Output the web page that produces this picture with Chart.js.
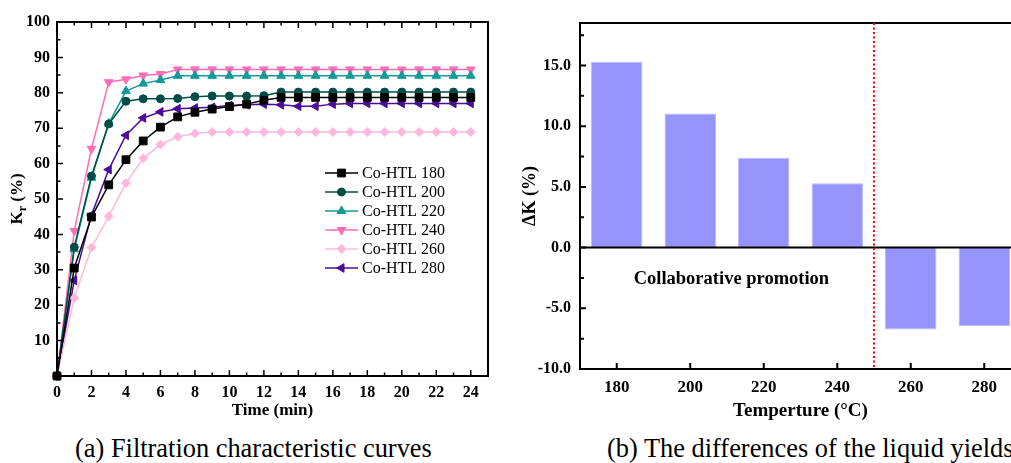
<!DOCTYPE html>
<html lang="en">
<head>
<meta charset="UTF-8">
<title>Filtration curves and liquid yield differences</title>
<script src="https://cdn.jsdelivr.net/npm/chart.js"></script>
<style>
  html, body { margin: 0; padding: 0; background: #fff; overflow: hidden; width: 1011px; height: 463px; }
  #wrapA { position: absolute; left: 0; top: 0; }
  #wrapB { position: absolute; left: 515px; top: 0; }
  .cap { position: absolute; top: 433px; font-family: 'Liberation Serif', serif; font-size: 26.4px; line-height: 30px; white-space: nowrap; color: #000; }
</style>
</head>
<body>
<div id="wrapA"><canvas id="chartA" width="505" height="430"></canvas></div>
<div id="wrapB"><canvas id="chartB" width="530" height="430"></canvas></div>
<div class="cap" style="left:75px">(a) Filtration characteristic curves</div>
<div class="cap" style="left:607px">(b) The differences of the liquid yields</div>
<script>
// (a) time axis, minutes
const times = [0, 1, 2, 3, 4, 5, 6, 7, 8, 9, 10, 11, 12, 13, 14, 15, 16, 17, 18, 19, 20, 21, 22, 23, 24];

// Kr (%) per sample
const htl180 = [0, 30.5, 44.9, 54.0, 61.1, 66.4, 70.3, 73.2, 74.5, 75.4, 76.1, 76.8, 77.9, 78.7, 78.7, 78.7, 78.7, 78.7, 78.7, 78.7, 78.7, 78.7, 78.7, 78.7, 78.7];
const htl200 = [0, 36.4, 56.5, 71.2, 77.6, 78.3, 78.3, 78.4, 78.9, 79.1, 79.1, 79.1, 79.2, 80.2, 80.2, 80.2, 80.2, 80.2, 80.2, 80.2, 80.2, 80.2, 80.2, 80.2, 80.2];
const htl220 = [0, 35.8, 56.0, 71.3, 80.5, 82.6, 83.6, 84.8, 84.8, 84.8, 84.8, 84.8, 84.8, 84.8, 84.8, 84.8, 84.8, 84.8, 84.8, 84.8, 84.8, 84.8, 84.8, 84.8, 84.8];
const htl240 = [0, 41.0, 64.2, 83.0, 83.8, 84.9, 85.3, 86.6, 86.6, 86.6, 86.6, 86.6, 86.6, 86.6, 86.6, 86.6, 86.6, 86.6, 86.6, 86.6, 86.6, 86.6, 86.6, 86.6, 86.6];
const htl260 = [0, 22.0, 36.3, 45.1, 54.5, 61.5, 65.4, 67.6, 68.5, 68.9, 68.9, 68.9, 68.9, 68.9, 68.9, 68.9, 68.9, 68.9, 68.9, 68.9, 68.9, 68.9, 68.9, 68.9, 68.9];
const htl280 = [0, 27.0, 45.5, 58.3, 68.0, 72.9, 74.6, 75.5, 75.7, 75.9, 76.4, 76.6, 76.8, 76.6, 76.2, 76.2, 76.8, 77.0, 77.0, 77.0, 77.0, 77.0, 77.0, 77.0, 77.0];

// (b) difference of liquid yields
const temps = ['180', '200', '220', '240', '260', '280'];
const deltaK = [15.3, 11.05, 7.4, 5.3, -6.75, -6.45];

const serif = "'Liberation Serif', 'Times New Roman', serif";

function series(label, data, color, style, rot, r) {
  return {
    label: label,
    data: times.map((t, i) => ({ x: t, y: data[i] })),
    borderColor: color,
    backgroundColor: color,
    borderWidth: 1.5,
    pointStyle: style,
    rotation: rot,
    pointRadius: r,
    pointBorderWidth: 1,
    tension: 0,
    clip: false
  };
}

// own marker drawer for the legend
function marker(ctx, ds, x, y) {
  const r = ds.pointRadius;
  ctx.beginPath();
  if (ds.pointStyle === 'rect') {
    const s = r * Math.SQRT1_2;
    ctx.rect(x - s, y - s, 2 * s, 2 * s);
  } else if (ds.pointStyle === 'rectRot') {
    ctx.moveTo(x, y - r); ctx.lineTo(x + r, y); ctx.lineTo(x, y + r); ctx.lineTo(x - r, y); ctx.closePath();
  } else if (ds.pointStyle === 'triangle') {
    let a = ds.rotation * Math.PI / 180;
    for (let k = 0; k < 3; k++) {
      const px = x + Math.sin(a) * r, py = y - Math.cos(a) * r;
      if (k === 0) ctx.moveTo(px, py); else ctx.lineTo(px, py);
      a += 2 * Math.PI / 3;
    }
    ctx.closePath();
  } else {
    ctx.arc(x, y, r, 0, Math.PI * 2);
  }
  ctx.fill();
  ctx.stroke();
}

const decorA = {
  id: 'decorA',
  afterDatasetsDraw(chart) {
    const { ctx, chartArea: a, scales: { x, y } } = chart;
    ctx.save();
    ctx.strokeStyle = '#000';
    ctx.lineWidth = 2;
    ctx.strokeRect(a.left, a.top, a.right - a.left, a.bottom - a.top);
    ctx.lineWidth = 1.5;
    ctx.beginPath();
    for (let v = 1; v <= 24; v++) {
      const px = x.getPixelForValue(v);
      const len = v % 2 === 0 ? 6 : 3.5;
      ctx.moveTo(px, a.bottom); ctx.lineTo(px, a.bottom - len);
      ctx.moveTo(px, a.top); ctx.lineTo(px, a.top + len);
    }
    for (let v = 5; v < 100; v += 5) {
      const py = y.getPixelForValue(v);
      const len = v % 10 === 0 ? 6 : 3.5;
      ctx.moveTo(a.left, py); ctx.lineTo(a.left + len, py);
    }
    ctx.stroke();
    ctx.restore();
  },
  afterDraw(chart) {
    const { ctx, chartArea: a } = chart;
    ctx.save();
    // y title with subscript
    ctx.translate(18, (a.top + a.bottom) / 2);
    ctx.rotate(-Math.PI / 2);
    ctx.fillStyle = '#000';
    ctx.textBaseline = 'middle';
    const big = 'bold 17px ' + serif, small = 'bold 12px ' + serif;
    ctx.font = big; const wK = ctx.measureText('K').width; const wP = ctx.measureText(' (%)').width;
    ctx.font = small; const wr = ctx.measureText('r').width;
    let sx = -(wK + wr + wP) / 2;
    ctx.font = big; ctx.fillText('K', sx, 0); sx += wK;
    ctx.font = small; ctx.fillText('r', sx, 5); sx += wr;
    ctx.font = big; ctx.fillText(' (%)', sx, 0);
    ctx.restore();

    // legend
    ctx.save();
    ctx.font = '16px ' + serif;
    ctx.textBaseline = 'middle';
    chart.data.datasets.forEach((ds, i) => {
      const ly = 173 + i * 19;
      ctx.strokeStyle = ds.borderColor;
      ctx.fillStyle = ds.backgroundColor;
      ctx.lineWidth = 1.5;
      ctx.beginPath(); ctx.moveTo(325, ly); ctx.lineTo(358, ly); ctx.stroke();
      ctx.lineWidth = 1;
      marker(ctx, ds, 341.5, ly);
      ctx.fillStyle = '#000';
      ctx.fillText(ds.label, 362, ly + 1);
    });
    ctx.restore();
  }
};

new Chart(document.getElementById('chartA'), {
  type: 'line',
  data: {
    datasets: [
      series('Co-HTL 180', htl180, '#000000', 'rect', 0, 5.5),
      series('Co-HTL 200', htl200, '#004d48', 'circle', 0, 4),
      series('Co-HTL 220', htl220, '#14999a', 'triangle', 0, 5),
      series('Co-HTL 240', htl240, '#ff6eb4', 'triangle', 180, 5),
      series('Co-HTL 260', htl260, '#ffb8da', 'rectRot', 0, 4.5),
      series('Co-HTL 280', htl280, '#4a0c98', 'triangle', -90, 5)
    ]
  },
  options: {
    responsive: false,
    animation: false,
    layout: { padding: { top: 22, right: 17, left: 0, bottom: 0 } },
    plugins: { legend: { display: false }, tooltip: { enabled: false } },
    scales: {
      x: {
        type: 'linear', min: 0, max: 25,
        grid: { display: false, drawTicks: false }, border: { display: false },
        ticks: { stepSize: 2, includeBounds: false, padding: 7, color: '#000', font: { family: serif, size: 16, weight: 'bold' } },
        title: { display: true, text: 'Time (min)', color: '#000', padding: { top: 0, bottom: 9 }, font: { family: serif, size: 17, weight: 'bold' } },
        afterFit(s) { s.height = 54; }
      },
      y: {
        min: 0, max: 100,
        grid: { display: false, drawTicks: false }, border: { display: false },
        ticks: { stepSize: 10, padding: 7, color: '#000', font: { family: serif, size: 16, weight: 'bold' },
          callback: v => (v === 0 ? '' : v) },
        afterFit(s) { s.width = 57; }
      }
    }
  },
  plugins: [decorA]
});

const decorB = {
  id: 'decorB',
  afterDatasetsDraw(chart) {
    const { ctx, chartArea: a, scales: { x, y } } = chart;
    ctx.save();
    ctx.strokeStyle = '#000';
    ctx.lineWidth = 2;
    ctx.strokeRect(a.left, a.top, a.right - a.left, a.bottom - a.top);
    const y0 = y.getPixelForValue(0);
    ctx.beginPath(); ctx.moveTo(a.left, y0); ctx.lineTo(a.right, y0); ctx.stroke();
    ctx.beginPath();
    for (let v = -7.5; v <= 17.5; v += 2.5) {
      const py = y.getPixelForValue(v);
      const len = v % 5 === 0 ? 6 : 4;
      ctx.moveTo(a.left, py); ctx.lineTo(a.left + len, py);
    }
    temps.forEach((t, i) => {
      const px = x.getPixelForValue(i);
      ctx.moveTo(px, a.bottom); ctx.lineTo(px, a.bottom - 6);
    });
    ctx.stroke();
    // divider between 240 and 260
    const xd = (x.getPixelForValue(3) + x.getPixelForValue(4)) / 2;
    ctx.strokeStyle = '#ff0000';
    ctx.lineWidth = 2;
    ctx.setLineDash([2, 2.5]);
    ctx.beginPath(); ctx.moveTo(xd, a.top); ctx.lineTo(xd, a.bottom); ctx.stroke();
    ctx.setLineDash([]);
    // annotation
    ctx.fillStyle = '#000';
    ctx.font = 'bold 18.5px ' + serif;
    ctx.textAlign = 'center';
    ctx.textBaseline = 'middle';
    ctx.fillText('Collaborative promotion', x.getPixelForValue(1.56), y.getPixelForValue(-2.6));
    ctx.restore();
  }
};

new Chart(document.getElementById('chartB'), {
  type: 'bar',
  data: {
    labels: temps,
    datasets: [{
      label: 'ΔK',
      data: deltaK,
      backgroundColor: '#9494fa',
      borderColor: '#bcbcfd',
      borderWidth: 1,
      barPercentage: 0.7,
      categoryPercentage: 1
    }]
  },
  options: {
    responsive: false,
    animation: false,
    layout: { padding: { top: 23, right: 24, left: 0, bottom: 0 } },
    plugins: { legend: { display: false }, tooltip: { enabled: false } },
    scales: {
      x: {
        grid: { display: false, drawTicks: false }, border: { display: false },
        ticks: { padding: 8, color: '#000', font: { family: serif, size: 17, weight: 'bold' } },
        title: { display: true, text: 'Temperture (°C)', color: '#000', padding: { top: 0, bottom: 8 }, font: { family: serif, size: 19, weight: 'bold' } },
        afterFit(s) { s.height = 61; }
      },
      y: {
        min: -10, max: 18.5,
        grid: { display: false, drawTicks: false }, border: { display: false },
        ticks: { stepSize: 5, includeBounds: false, padding: 9, color: '#000', font: { family: serif, size: 16, weight: 'bold' },
          callback: v => Number(v).toFixed(1) },
        title: { display: true, text: 'ΔK (%)', color: '#000', padding: { top: 5, bottom: 0 }, font: { family: serif, size: 18, weight: 'bold' } },
        afterFit(s) { s.width = 65; }
      }
    }
  },
  plugins: [decorB]
});
</script>
</body>
</html>
